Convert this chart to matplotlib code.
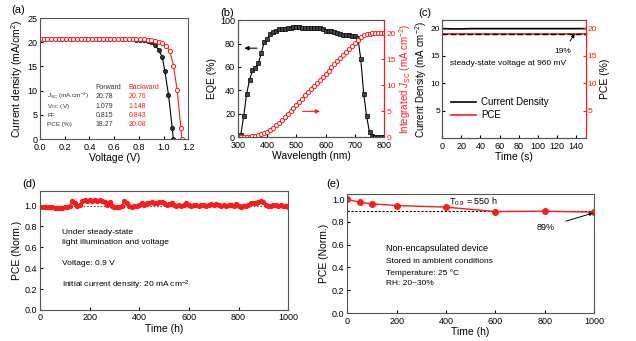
import matplotlib
matplotlib.use('Agg')
import matplotlib.pyplot as plt

plt.rcParams['font.family'] = ['Liberation Sans', 'DejaVu Sans']
plt.rcParams['mathtext.fontset'] = 'custom'
plt.rcParams['mathtext.rm'] = 'Liberation Sans'
plt.rcParams['mathtext.it'] = 'Liberation Sans:italic'
plt.rcParams['xtick.direction'] = 'in'
plt.rcParams['ytick.direction'] = 'in'
plt.rcParams['xtick.labelsize'] = 6.5
plt.rcParams['ytick.labelsize'] = 6.5
plt.rcParams['xtick.major.size'] = 2.5
plt.rcParams['ytick.major.size'] = 2.5
plt.rcParams['xtick.major.pad'] = 2.5
plt.rcParams['ytick.major.pad'] = 2
plt.rcParams['axes.labelsize'] = 7.5
plt.rcParams['axes.edgecolor'] = '#555555'
plt.rcParams['axes.linewidth'] = 0.8

RED = '#ff1a1a'

# (a) J-V curves
v_fwd = [0.0, 0.03, 0.06, 0.09, 0.12, 0.15, 0.18, 0.21, 0.24, 0.27, 0.30, 0.33, 0.36, 0.39,
         0.42, 0.45, 0.48, 0.51, 0.54, 0.57, 0.60, 0.63, 0.66, 0.69, 0.72, 0.75, 0.78, 0.81,
         0.84, 0.87, 0.90, 0.93, 0.96, 0.99, 1.01, 1.04, 1.07, 1.079]
j_fwd = [20.78, 20.78, 20.78, 20.78, 20.78, 20.78, 20.78, 20.78, 20.77, 20.77, 20.77, 20.77,
         20.77, 20.76, 20.76, 20.76, 20.75, 20.75, 20.74, 20.73, 20.72, 20.71, 20.69, 20.67,
         20.64, 20.6, 20.55, 20.48, 20.38, 20.2, 20.0, 19.5, 18.4, 16.9, 14.1, 9.2, 2.4, 0.0]
v_bwd = [0.0, 0.03, 0.06, 0.09, 0.12, 0.15, 0.18, 0.21, 0.24, 0.27, 0.30, 0.33, 0.36, 0.39,
         0.42, 0.45, 0.48, 0.51, 0.54, 0.57, 0.60, 0.63, 0.66, 0.69, 0.72, 0.75, 0.78, 0.81,
         0.84, 0.87, 0.90, 0.93, 0.96, 0.99, 1.02, 1.05, 1.08, 1.11, 1.14, 1.148]
j_bwd = [20.76, 20.76, 20.76, 20.76, 20.76, 20.76, 20.76, 20.76, 20.76, 20.76, 20.76, 20.76,
         20.76, 20.76, 20.76, 20.75, 20.75, 20.75, 20.74, 20.74, 20.73, 20.73, 20.72, 20.71,
         20.7, 20.68, 20.66, 20.63, 20.59, 20.53, 20.45, 20.3, 20.1, 19.8, 19.3, 18.3, 15.2,
         10.2, 2.4, 0.0]
table_rows = ['$\\mathit{J}_{\\mathregular{SC}}$ (mA cm$^{-2}$)', 'V$_{\\mathregular{OC}}$ (V)', 'FF', 'PCE (%)']
table_fwd = ['20.78', '1.079', '0.815', '18.27']
table_bwd = ['20.76', '1.148', '0.843', '20.08']

# (b) EQE and integrated Jsc
wl = [300, 310, 320, 330, 340, 350, 360, 370, 380, 390, 400, 410, 420, 430, 440, 450, 460,
      470, 480, 490, 500, 510, 520, 530, 540, 550, 560, 570, 580, 590, 600, 610, 620, 630,
      640, 650, 660, 670, 680, 690, 700, 710, 720, 730, 740, 750, 760, 770, 780, 790, 800]
eqe = [0.5, 2, 18, 37, 49, 57, 59, 63, 72, 81, 84, 88, 90, 91, 92, 92, 92.5, 93, 93.5, 94,
       94, 94, 93.5, 93.5, 93.5, 93.5, 93, 93, 93, 92, 91, 90.5, 90.5, 90, 89, 88, 87.5, 87,
       87, 86.5, 86, 85, 67, 37, 18, 4, 1, 0.3, 0.2, 0.1, 0.1]
jsc_int = [0, 0, 0.02, 0.05, 0.1, 0.17, 0.26, 0.38, 0.55, 0.78, 1.05, 1.4, 1.8, 2.25, 2.75,
           3.3, 3.85, 4.45, 5.05, 5.65, 6.25, 6.85, 7.45, 8.05, 8.65, 9.25, 9.85, 10.45,
           11.05, 11.65, 12.25, 12.85, 13.45, 14.05, 14.65, 15.25, 15.85, 16.45, 17.05, 17.6,
           18.15, 18.7, 19.3, 19.7, 19.9, 20.0, 20.05, 20.05, 20.05, 20.05, 20.05]

# (c) steady-state output
t_s = [0, 10, 20, 30, 40, 50, 60, 70, 80, 90, 100, 110, 120, 130, 140, 150]
j_ss = [19.95, 19.9, 19.9, 19.95, 19.95, 19.95, 19.95, 19.95, 19.95, 19.95, 19.95, 19.95,
        19.95, 19.95, 19.95, 19.95]
pce_ss = [19.0, 19.0, 19.0, 19.0, 19.0, 19.0, 19.0, 19.0, 19.0, 19.0, 19.0, 19.0, 19.0,
          19.0, 19.0, 19.0]

# (d) operational stability
t_d = list(range(0, 1001, 10))
pce_d = [0.99, 0.99, 0.985, 0.99, 0.99, 0.985, 0.98, 0.975, 0.975, 0.98, 0.985, 0.99, 1.0,
         1.04, 1.02, 0.995, 1.01, 1.045, 1.05, 1.045, 1.05, 1.045, 1.05, 1.045, 1.05, 1.04,
         1.03, 1.01, 1.035, 1.0, 0.985, 0.985, 0.99, 1.0, 1.04, 1.02, 1.0, 0.985, 0.995, 1.0,
         1.01, 1.02, 1.01, 1.025, 1.02, 1.03, 1.025, 1.02, 1.03, 1.03, 1.025, 1.01, 1.015,
         1.02, 1.01, 1.0, 1.005, 1.0, 1.01, 1.02, 1.01, 1.0, 1.01, 1.005, 1.0, 1.01, 1.005,
         1.0, 1.01, 1.015, 1.005, 1.015, 1.01, 1.0, 1.005, 1.0, 1.01, 1.005, 1.0, 1.015, 1.0,
         0.99, 0.995, 1.0, 1.005, 1.02, 1.025, 1.02, 1.035, 1.04, 1.03, 1.01, 0.995, 1.0,
         1.01, 1.005, 1.0, 1.005, 1.0, 1.0, 0.99]

# (e) shelf stability
t_e = [0, 50, 100, 200, 400, 600, 800, 1000]
pce_e = [1.0, 0.971, 0.959, 0.944, 0.93, 0.891, 0.894, 0.886]

fig = plt.figure(figsize=(6.36, 3.41), dpi=100)

# ---- (a)
ax = fig.add_axes([0.063, 0.592, 0.233, 0.355])
ax.plot(v_fwd, j_fwd, '-o', color='black', lw=0.8, ms=3, mfc='#333333', mec='black', mew=0.5)
ax.plot(v_bwd, j_bwd, '-o', color=RED, lw=0.8, ms=3, mfc='white', mec=RED, mew=0.7)
ax.set_xlim(0, 1.2)
ax.set_ylim(0, 25)
ax.set_xticks([0.0, 0.2, 0.4, 0.6, 0.8, 1.0, 1.2])
ax.set_yticks([0, 5, 10, 15, 20, 25])
ax.set_xlabel('Voltage (V)', labelpad=1)
ax.set_ylabel('Current density (mA/cm$^{2}$)', labelpad=2)
ys = [0.355, 0.272, 0.197, 0.122]
ax.text(0.376, 0.43, 'Forward', transform=ax.transAxes, fontsize=5, color='#333333', va='center')
ax.text(0.597, 0.43, 'Backward', transform=ax.transAxes, fontsize=5, color=RED, va='center')
for i in range(4):
    ax.text(0.047, ys[i], table_rows[i], transform=ax.transAxes, fontsize=4.6, color='#333333', va='center')
    ax.text(0.376, ys[i], table_fwd[i], transform=ax.transAxes, fontsize=5, color='#333333', va='center')
    ax.text(0.597, ys[i], table_bwd[i], transform=ax.transAxes, fontsize=5, color=RED, va='center')

# ---- (b)
ax = fig.add_axes([0.374, 0.598, 0.230, 0.343])
ax.plot(wl, eqe, '-s', color='black', lw=0.8, ms=2.6, mfc='#444444', mec='black', mew=0.5)
ax.set_xlim(300, 800)
ax.set_ylim(0, 100)
ax.set_xticks([300, 400, 500, 600, 700, 800])
ax.set_yticks([0, 20, 40, 60, 80, 100])
ax.set_xlabel('Wavelength (nm)', labelpad=1)
ax.set_ylabel('EQE (%)', labelpad=2)
ax.annotate('', xy=(313, 76), xytext=(375, 76),
            arrowprops=dict(arrowstyle='-|>', color='black', lw=0.8, mutation_scale=6))
ax.annotate('', xy=(590, 22), xytext=(512, 22),
            arrowprops=dict(arrowstyle='-|>', color=RED, lw=0.8, mutation_scale=6))
ax2 = ax.twinx()
ax2.plot(wl, jsc_int, '-o', color=RED, lw=0.8, ms=3, mfc='white', mec=RED, mew=0.7)
ax2.set_ylim(0, 22.6)
ax2.set_yticks([0, 5, 10, 15, 20])
ax2.spines['right'].set_color(RED)
ax2.tick_params(axis='y', colors=RED, pad=1.5, labelsize=6)
ax2.set_ylabel('Integrated $\\mathit{J}_{\\mathregular{SC}}$ (mA cm$^{-2}$)', color=RED,
               labelpad=1, fontsize=7)

# ---- (c)
ax = fig.add_axes([0.695, 0.595, 0.226, 0.346])
ax.plot(t_s, j_ss, color='black', lw=1.2, label='Current Density')
ax.plot([], [], color=RED, lw=1.2, label='PCE')
ax.set_xlim(0, 150)
ax.set_ylim(0, 21.5)
ax.set_xticks([0, 20, 40, 60, 80, 100, 120, 140])
ax.set_yticks([5, 10, 15, 20])
ax.tick_params(axis='y', labelsize=6, pad=1.5)
ax.set_xlabel('Time (s)', labelpad=1)
ax.set_ylabel('Current Density (mA cm$^{-2}$)', labelpad=1, fontsize=7)
ax.text(0.056, 0.62, 'steady-state voltage at 960 mV', transform=ax.transAxes, fontsize=6)
ax.legend(loc='lower left', bbox_to_anchor=(0.03, 0.11), frameon=False, fontsize=7,
          handlelength=2.6, handletextpad=0.5, labelspacing=0.3, borderpad=0)
ax2 = ax.twinx()
ax2.plot(t_s, pce_ss, color=RED, lw=1.2)
ax2.plot(t_s, pce_ss, color='black', lw=1.0, ls=(0, (4, 2)))
ax2.set_ylim(0, 21.5)
ax2.set_yticks([5, 10, 15, 20])
ax2.spines['right'].set_color(RED)
ax2.tick_params(axis='y', colors=RED, labelsize=6, pad=1.5)
ax2.set_ylabel('PCE (%)', color='black', labelpad=2)
ax2.annotate('19%', xy=(138.5, 19.0), xytext=(126, 15.7), fontsize=6, ha='center', va='center',
             arrowprops=dict(arrowstyle='-|>', color='black', lw=0.7, mutation_scale=5,
                             shrinkA=4, shrinkB=0))

# ---- (d)
ax = fig.add_axes([0.063, 0.091, 0.390, 0.349])
ax.axhline(1.0, color='#555555', lw=0.8, ls=(0, (1.5, 1.5)))
ax.plot(t_d, pce_d, '-o', color=RED, lw=0.8, ms=2.8, mfc=RED, mec=RED)
ax.set_xlim(0, 1000)
ax.set_ylim(0, 1.14)
ax.set_xticks([0, 200, 400, 600, 800, 1000])
ax.set_yticks([0.0, 0.2, 0.4, 0.6, 0.8, 1.0])
ax.set_xlabel('Time (h)', labelpad=1)
ax.set_ylabel('PCE (Norm.)', labelpad=2)
ax.text(0.089, 0.655, 'Under steady-state', transform=ax.transAxes, fontsize=6, va='center')
ax.text(0.089, 0.571, 'light illumination and voltage', transform=ax.transAxes, fontsize=6, va='center')
ax.text(0.089, 0.387, 'Voltage: 0.9 V', transform=ax.transAxes, fontsize=6, va='center')
ax.text(0.089, 0.21, 'Initial current density: 20 mA cm$^{-2}$', transform=ax.transAxes,
        fontsize=6, va='center')

# ---- (e)
ax = fig.add_axes([0.546, 0.082, 0.388, 0.349])
ax.axhline(0.9, color='black', lw=0.8, ls=(0, (2, 1.5)))
ax.plot(t_e, pce_e, '-o', color=RED, lw=1.0, ms=4, mfc=RED, mec=RED)
ax.set_xlim(0, 1000)
ax.set_ylim(0, 1.045)
ax.set_xticks([0, 200, 400, 600, 800, 1000])
ax.set_yticks([0.0, 0.2, 0.4, 0.6, 0.8, 1.0])
ax.set_xlabel('Time (h)', labelpad=1)
ax.set_ylabel('PCE (Norm.)', labelpad=2)
ax.text(0.51, 0.933, 'T$_{0.9}$ = 550 h', transform=ax.transAxes, fontsize=6.5, ha='center', va='center')
ax.annotate('89%', xy=(996, 0.878), xytext=(806, 0.755), fontsize=6.5, ha='center', va='center',
            arrowprops=dict(arrowstyle='-|>', color='black', lw=0.7, mutation_scale=5,
                            shrinkA=6, shrinkB=0))
ax.text(0.158, 0.546, 'Non-encapsulated device', transform=ax.transAxes, fontsize=6.5, va='center')
ax.text(0.158, 0.429, 'Stored in ambient conditions', transform=ax.transAxes, fontsize=6, va='center')
ax.text(0.158, 0.336, 'Temperature: 25 \u00b0C', transform=ax.transAxes, fontsize=6, va='center')
ax.text(0.158, 0.252, 'RH: 20~30%', transform=ax.transAxes, fontsize=6, va='center')

# panel labels
fig.text(0.017, 0.97, '(a)', fontsize=8, va='center')
fig.text(0.346, 0.962, '(b)', fontsize=8, va='center')
fig.text(0.657, 0.962, '(c)', fontsize=8, va='center')
fig.text(0.035, 0.46, '(d)', fontsize=8, va='center')
fig.text(0.513, 0.46, '(e)', fontsize=8, va='center')

fig.savefig('out.png', dpi=100)
